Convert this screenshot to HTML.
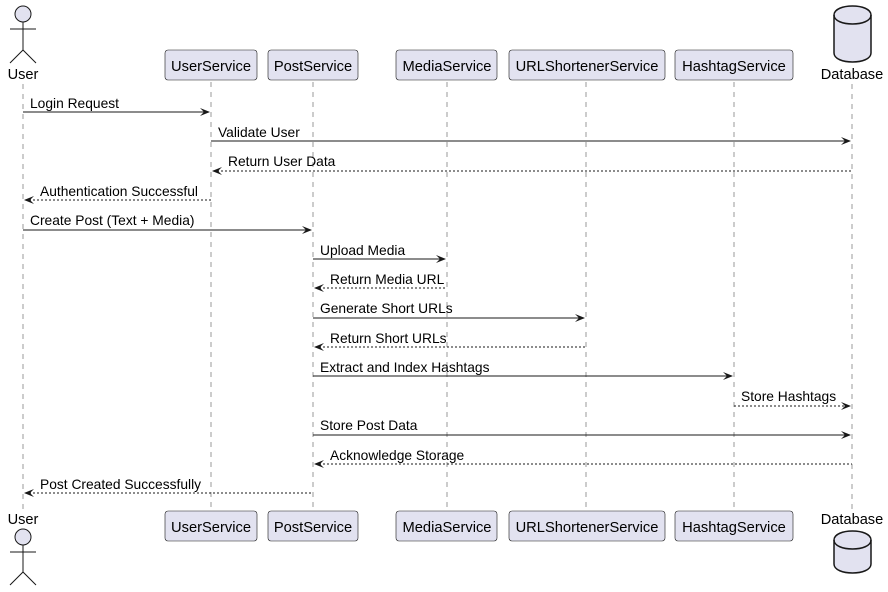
<!DOCTYPE html>
<html><head><meta charset="utf-8"><style>
html,body{margin:0;padding:0;background:#fff;}
svg{display:block;font-family:"Liberation Sans",sans-serif;font-size:13px;}
</style></head><body>
<svg width="888" height="592" viewBox="0 0 888 592" xmlns="http://www.w3.org/2000/svg">
<g stroke="#999" stroke-width="1" stroke-dasharray="5,5">
<line x1="23" y1="84" x2="23" y2="510"/>
<line x1="211" y1="82" x2="211" y2="510"/>
<line x1="313" y1="82" x2="313" y2="510"/>
<line x1="447" y1="82" x2="447" y2="510"/>
<line x1="586" y1="82" x2="586" y2="510"/>
<line x1="734" y1="82" x2="734" y2="510"/>
<line x1="852" y1="84" x2="852" y2="510"/>
</g>
<g stroke="#181818" stroke-width="1" fill="#E2E2F0">
<circle cx="23" cy="14" r="8"/>
<line x1="23" y1="22" x2="23" y2="50" fill="none"/>
<line x1="10" y1="29" x2="36" y2="29"/>
<polyline points="10,63 23,50 36,63" fill="none"/>
<circle cx="23" cy="537" r="8"/>
<line x1="23" y1="545" x2="23" y2="572"/>
<line x1="10" y1="552" x2="36" y2="552"/>
<polyline points="10,585 23,572 36,585" fill="none"/>
</g>
<text x="23" y="79" text-anchor="middle" font-size="14.6">User</text>
<text x="23" y="524" text-anchor="middle" font-size="14.6">User</text>
<g stroke="#181818" stroke-width="1.5" fill="#E2E2F0">
<path d="M834,15 C834,3 871,3 871,15 L871,53 C871,65 834,65 834,53 Z"/>
<path d="M834,15 C834,27 871,27 871,15" fill="none"/>
<path d="M834,540 C834,528 871,528 871,540 L871,564 C871,576 834,576 834,564 Z"/>
<path d="M834,540 C834,552 871,552 871,540" fill="none"/>
</g>
<text x="852" y="79" text-anchor="middle" font-size="14.6">Database</text>
<text x="852" y="524" text-anchor="middle" font-size="14.6">Database</text>
<g stroke="#181818" stroke-width="0.6" fill="#E2E2F0">
<rect x="165" y="50" width="92" height="30" rx="3"/>
<rect x="268" y="50" width="90" height="30" rx="3"/>
<rect x="396" y="50" width="101" height="30" rx="3"/>
<rect x="509" y="50" width="156" height="30" rx="3"/>
<rect x="675" y="50" width="118" height="30" rx="3"/>
<rect x="165" y="511" width="92" height="30" rx="3"/>
<rect x="268" y="511" width="90" height="30" rx="3"/>
<rect x="396" y="511" width="101" height="30" rx="3"/>
<rect x="509" y="511" width="156" height="30" rx="3"/>
<rect x="675" y="511" width="118" height="30" rx="3"/>
</g>
<g text-anchor="middle" font-size="14.7">
<text x="211" y="71">UserService</text><text x="313" y="71">PostService</text><text x="447" y="71">MediaService</text><text x="587" y="71">URLShortenerService</text><text x="734" y="71">HashtagService</text>
<text x="211" y="532">UserService</text><text x="313" y="532">PostService</text><text x="447" y="532">MediaService</text><text x="587" y="532">URLShortenerService</text><text x="734" y="532">HashtagService</text>
</g>
<g stroke="#181818" stroke-width="1">
<line x1="23" y1="112" x2="209" y2="112"/>
<line x1="211" y1="141" x2="850" y2="141"/>
<line x1="213" y1="171" x2="852" y2="171" stroke-dasharray="2,2"/>
<line x1="25" y1="200" x2="211" y2="200" stroke-dasharray="2,2"/>
<line x1="23" y1="230" x2="311" y2="230"/>
<line x1="313" y1="259" x2="445" y2="259"/>
<line x1="315" y1="288" x2="447" y2="288" stroke-dasharray="2,2"/>
<line x1="313" y1="318" x2="584" y2="318"/>
<line x1="315" y1="347" x2="586" y2="347" stroke-dasharray="2,2"/>
<line x1="313" y1="376" x2="732" y2="376"/>
<line x1="734" y1="406" x2="850" y2="406" stroke-dasharray="2,2"/>
<line x1="313" y1="435" x2="850" y2="435"/>
<line x1="315" y1="464" x2="852" y2="464" stroke-dasharray="2,2"/>
<line x1="25" y1="493" x2="313" y2="493" stroke-dasharray="2,2"/>
</g>
<g fill="#181818">
<polygon points="200,108 210,112 200,116 204,112"/>
<polygon points="841,137 851,141 841,145 845,141"/>
<polygon points="222,167 212,171 222,175 218,171"/>
<polygon points="34,196 24,200 34,204 30,200"/>
<polygon points="302,226 312,230 302,234 306,230"/>
<polygon points="436,255 446,259 436,263 440,259"/>
<polygon points="324,284 314,288 324,292 320,288"/>
<polygon points="575,314 585,318 575,322 579,318"/>
<polygon points="324,343 314,347 324,351 320,347"/>
<polygon points="723,372 733,376 723,380 727,376"/>
<polygon points="841,402 851,406 841,410 845,406"/>
<polygon points="841,431 851,435 841,439 845,435"/>
<polygon points="324,460 314,464 324,468 320,464"/>
<polygon points="34,489 24,493 34,497 30,493"/>
</g>
<g font-size="13.8" fill="#000">
<text x="30" y="108">Login Request</text>
<text x="218" y="137">Validate User</text>
<text x="228" y="166">Return User Data</text>
<text x="40" y="196">Authentication Successful</text>
<text x="30" y="225">Create Post (Text + Media)</text>
<text x="320" y="255">Upload Media</text>
<text x="330" y="284">Return Media URL</text>
<text x="320" y="313">Generate Short URLs</text>
<text x="330" y="343">Return Short URLs</text>
<text x="320" y="372">Extract and Index Hashtags</text>
<text x="741" y="401">Store Hashtags</text>
<text x="320" y="430">Store Post Data</text>
<text x="330" y="460">Acknowledge Storage</text>
<text x="40" y="489">Post Created Successfully</text>
</g>
</svg>
</body></html>
